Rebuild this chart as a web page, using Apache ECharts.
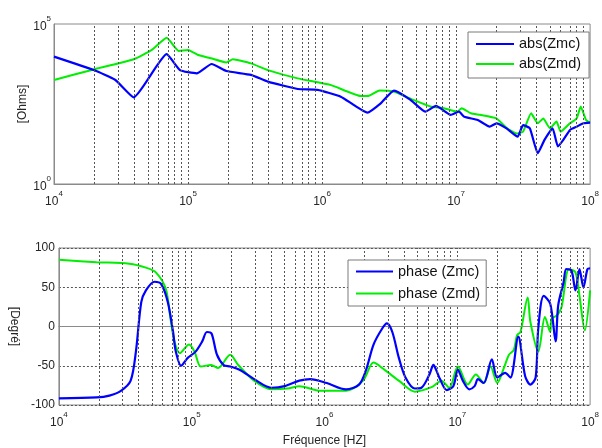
<!DOCTYPE html>
<html>
<head>
<meta charset="utf-8">
<script src="https://cdn.jsdelivr.net/npm/echarts@6/dist/echarts.min.js"></script>
<style>
html,body{margin:0;padding:0;background:#fff;}
#chart{width:602px;height:448px;}
</style>
</head>
<body>
<div id="chart"></div>
<script>
// ---- Data (frequency in Hz, magnitude in Ohms, phase in degrees) ----
const freqMagMc = [1e4, 1.98e4, 2.87e4, 3.93e4, 6.93e4, 8.71e4, 1.16e5, 1.50e5, 1.93e5, 2.95e5, 3.94e5, 6.58e5, 9.27e5, 1.38e6, 2.18e6, 2.74e6, 3.44e6, 4.57e6, 5.89e6, 7.08e6, 9.12e6, 1.05e7, 1.15e7, 1.45e7, 1.78e7, 2.0e7, 2.38e7, 2.88e7, 3.16e7, 3.55e7, 4.07e7, 4.57e7, 5.25e7, 5.75e7, 6.31e7, 7.08e7, 7.94e7, 8.91e7, 1e8];
const magMc = [9550, 3630, 1780, 513, 11500, 3630, 2880, 5620, 3390, 2570, 1580, 933, 871, 537, 170, 331, 832, 427, 182, 275, 145, 182, 126, 100, 62, 79, 55, 30, 69, 55, 9.1, 24, 55, 15, 24, 49, 62, 79, 83];

const freqMagMd = [1e4, 1.98e4, 3.93e4, 5.37e4, 6.93e4, 8.51e4, 1.0e5, 1.19e5, 1.48e5, 1.93e5, 2.16e5, 2.95e5, 3.94e5, 6.58e5, 1.17e6, 1.95e6, 2.24e6, 2.69e6, 3.47e6, 4.79e6, 6.46e6, 8.13e6, 1.02e7, 1.10e7, 1.29e7, 1.51e7, 2.0e7, 2.40e7, 2.82e7, 3.16e7, 3.63e7, 4.07e7, 4.47e7, 5.01e7, 5.62e7, 6.03e7, 7.08e7, 7.94e7, 8.51e7, 9.33e7, 1e8];
const magMd = [1780, 3800, 7940, 15500, 37150, 14450, 15500, 10700, 8510, 6310, 7940, 5890, 3630, 2000, 1230, 562, 575, 832, 759, 427, 263, 234, 182, 234, 162, 145, 112, 55, 38, 43, 162, 79, 112, 55, 89, 43, 79, 112, 263, 100, 83];

const freqPhMc = [1e4, 1.92e4, 2.40e4, 2.93e4, 3.47e4, 3.80e4, 4.17e4, 4.52e4, 5.25e4, 5.89e4, 6.61e4, 7.24e4, 7.59e4, 8.32e4, 9.33e4, 1.07e5, 1.20e5, 1.30e5, 1.41e5, 1.55e5, 1.74e5, 1.95e5, 2.29e5, 2.95e5, 3.98e5, 5.01e5, 6.46e5, 7.80e5, 1.04e6, 1.45e6, 1.82e6, 2.04e6, 2.34e6, 2.72e6, 2.95e6, 3.24e6, 3.63e6, 4.07e6, 4.79e6, 5.37e6, 6.17e6, 6.61e6, 6.92e6, 7.41e6, 8.32e6, 9.33e6, 1.01e7, 1.10e7, 1.23e7, 1.35e7, 1.43e7, 1.58e7, 1.82e7, 2.0e7, 2.29e7, 2.51e7, 2.88e7, 3.24e7, 3.55e7, 3.89e7, 4.07e7, 4.47e7, 5.01e7, 5.50e7, 5.75e7, 6.31e7, 6.61e7, 7.24e7, 7.76e7, 8.32e7, 8.91e7, 9.55e7, 1e8];
const phMc = [-91.6, -90.4, -88, -82, -69, -32, 31, 46, 57, 54, 31, -7, -32, -50, -40, -32, -19, -7, -9, -36, -49, -51, -55, -67, -78, -76, -69, -67, -72, -80, -74, -57, -23, -2.5, 4, -7, -40, -65, -79, -78, -61, -49, -55, -67, -81, -76, -55, -69, -80, -76, -67, -72, -42, -65, -59, -65, -13, -63, -74, -65, -2.5, 39, 29, -19, 27, 56, 73, 71, 46, 73, 50, 73, 74];

const freqPhMd = [1e4, 1.92e4, 3.39e4, 4.52e4, 5.37e4, 6.38e4, 6.92e4, 7.41e4, 8.13e4, 9.55e4, 1.05e5, 1.17e5, 1.40e5, 1.58e5, 1.95e5, 2.24e5, 2.95e5, 3.98e5, 5.25e5, 6.46e5, 9.33e5, 1.45e6, 1.95e6, 2.34e6, 2.82e6, 3.63e6, 4.79e6, 6.46e6, 7.59e6, 8.71e6, 1.01e7, 1.20e7, 1.38e7, 1.58e7, 1.78e7, 2.0e7, 2.24e7, 2.45e7, 2.66e7, 2.82e7, 2.99e7, 3.39e7, 3.55e7, 4.07e7, 4.57e7, 5.01e7, 5.13e7, 5.62e7, 6.10e7, 6.92e7, 7.76e7, 8.32e7, 9.12e7, 1e8];
const phMd = [85, 82, 80, 75, 69, 48, 10, -19, -34, -23, -32, -51, -49, -53, -36, -49, -69, -80, -79, -76, -82, -82, -69, -46, -55, -69, -83, -77, -69, -78, -51, -74, -61, -72, -51, -72, -53, -36, -30, -11, -7, 37, 6, -32, 12, -7, 10, 14, 25, 73, 69, 39, -5, 46];

const seriesNames = ['abs(Zmc)', 'abs(Zmd)', 'phase (Zmc)', 'phase (Zmd)'];
const freqDecades = [4, 5, 6, 7, 8];       // x tick labels 10^n
const magDecades = [0, 5];                  // top y tick labels 10^n
const phaseTicks = [-100, -50, 0, 50, 100]; // bottom y tick labels
const xAxisTitle = 'Fréquence [HZ]';
const magTitle = '[Ohms]';
const phaseTitle = '[Degré]';

// ---- helpers ----
const lg = Math.log10;
const pairs = (fx, ys, tf) => fx.map((f, i) => [lg(f), tf ? tf(ys[i]) : ys[i]]);

// minor grid positions k*10^n inside the decade range
const gridPos = [];
for (let n = freqDecades[0]; n < freqDecades[freqDecades.length - 1]; n++) {
  for (let k = 1; k <= 9; k++) {
    const v = lg(k * Math.pow(10, n));
    if (v > freqDecades[0] + 1e-9) gridPos.push({ xAxis: v });
  }
}

const FONT = '"Liberation Sans", Arial, sans-serif';
const TXT = '#262626';
const BOX = '#8a8a8a';
const GRIDC = '#555';
const BLUE = '#0000ff';
const GREEN = '#00ee00';

const powRich = {
  b: { fontSize: 12, color: TXT, fontFamily: FONT, lineHeight: 18, verticalAlign: 'bottom' },
  s: { fontSize: 8, color: TXT, fontFamily: FONT, verticalAlign: 'top', lineHeight: 9 }
};
const powFmt = (list) => (v) => {
  const r = Math.round(v);
  if (Math.abs(v - r) > 1e-6 || list.indexOf(r) < 0) return '';
  return '{b|10}{s|' + r + '}';
};

const gridMark = {
  silent: true,
  symbol: ['none', 'none'],
  label: { show: false },
  lineStyle: { type: [2, 2], color: GRIDC, width: 1 },
  emphasis: { disabled: true },
  animation: false,
  data: gridPos
};

function xAxisCfg(gi, withName) {
  return {
    type: 'value', gridIndex: gi,
    min: freqDecades[0], max: freqDecades[freqDecades.length - 1], interval: 1,
    axisLine: { show: true, lineStyle: { color: BOX } },
    axisTick: { show: false },
    splitLine: { show: false },
    axisLabel: { formatter: powFmt(freqDecades), rich: powRich, margin: 6 },
    name: withName ? xAxisTitle : '',
    nameLocation: 'middle', nameGap: 30,
    nameTextStyle: { fontSize: 12, color: TXT, fontFamily: FONT }
  };
}

const option = {
  animation: false,
  backgroundColor: '#fff',
  grid: [
    { left: 54, right: 8, top: 24, height: 160, show: true, borderColor: BOX, borderWidth: 1, backgroundColor: 'transparent' },
    { left: 54, right: 8, top: 248, height: 160, show: true, borderColor: BOX, borderWidth: 1, backgroundColor: 'transparent' }
  ],
  xAxis: [xAxisCfg(0, false), xAxisCfg(1, true)],
  yAxis: [
    {
      type: 'value', gridIndex: 0,
      min: magDecades[0], max: magDecades[magDecades.length - 1], interval: 5,
      axisLine: { show: true, lineStyle: { color: BOX } },
      axisTick: { show: false },
      splitLine: { show: false },
      axisLabel: { formatter: powFmt(magDecades), rich: powRich, margin: 3 },
      name: magTitle, nameLocation: 'middle', nameRotate: 90, nameGap: 25, nameMoveOverlap: false,
      nameTextStyle: { fontSize: 12, color: TXT, fontFamily: FONT }
    },
    {
      type: 'value', gridIndex: 1,
      min: phaseTicks[0], max: phaseTicks[phaseTicks.length - 1], interval: 50,
      axisLine: { show: true, lineStyle: { color: BOX } },
      axisTick: { show: false },
      splitLine: { show: true, lineStyle: { type: [2, 2], color: GRIDC, width: 1 } },
      axisLabel: { fontSize: 12, color: TXT, fontFamily: FONT, margin: 4 },
      name: phaseTitle, nameLocation: 'middle', nameRotate: -90, nameGap: 36,
      nameTextStyle: { fontSize: 12, color: TXT, fontFamily: FONT }
    }
  ],
  legend: [
    {
      data: [seriesNames[0], seriesNames[1]],
      orient: 'vertical', left: 468, top: 32, z: 50,
      icon: 'rect', itemWidth: 38, itemHeight: 2, itemGap: 4, itemTextGap: 5,
      padding: [4, 8, 6, 8],
      backgroundColor: '#fff', borderColor: '#7a7a7a', borderWidth: 1, borderRadius: 0,
      textStyle: { fontSize: 14.5, color: '#111', fontFamily: FONT, lineHeight: 16 },
      selectedMode: false
    },
    {
      data: [seriesNames[2], seriesNames[3]],
      orient: 'vertical', left: 348, top: 260, z: 50,
      icon: 'rect', itemWidth: 37, itemHeight: 2, itemGap: 5, itemTextGap: 5,
      padding: [3, 6, 4, 8],
      backgroundColor: '#fff', borderColor: '#7a7a7a', borderWidth: 1, borderRadius: 0,
      textStyle: { fontSize: 14.5, color: '#111', fontFamily: FONT, lineHeight: 17 },
      selectedMode: false
    }
  ],
  series: [
    {
      name: seriesNames[0], type: 'line', xAxisIndex: 0, yAxisIndex: 0,
      data: pairs(freqMagMc, magMc, lg), showSymbol: false, symbol: 'none',
      lineStyle: { color: BLUE, width: 2.2 }, itemStyle: { color: BLUE }, smooth: 0.15,
      markLine: gridMark, z: 3
    },
    {
      name: seriesNames[1], type: 'line', xAxisIndex: 0, yAxisIndex: 0,
      data: pairs(freqMagMd, magMd, lg), showSymbol: false, symbol: 'none',
      lineStyle: { color: GREEN, width: 2 }, itemStyle: { color: GREEN }, smooth: 0.15, z: 2
    },
    {
      name: seriesNames[2], type: 'line', xAxisIndex: 1, yAxisIndex: 1,
      data: pairs(freqPhMc, phMc), showSymbol: false, symbol: 'none',
      lineStyle: { color: BLUE, width: 2.2 }, itemStyle: { color: BLUE }, smooth: 0.3,
      markLine: gridMark, z: 3
    },
    {
      name: seriesNames[3], type: 'line', xAxisIndex: 1, yAxisIndex: 1,
      data: pairs(freqPhMd, phMd), showSymbol: false, symbol: 'none',
      lineStyle: { color: GREEN, width: 2 }, itemStyle: { color: GREEN }, smooth: 0.3, z: 2
    }
  ]
};

const chart = echarts.init(document.getElementById('chart'), null, { renderer: 'canvas' });
chart.setOption(option);
</script>
</body>
</html>
